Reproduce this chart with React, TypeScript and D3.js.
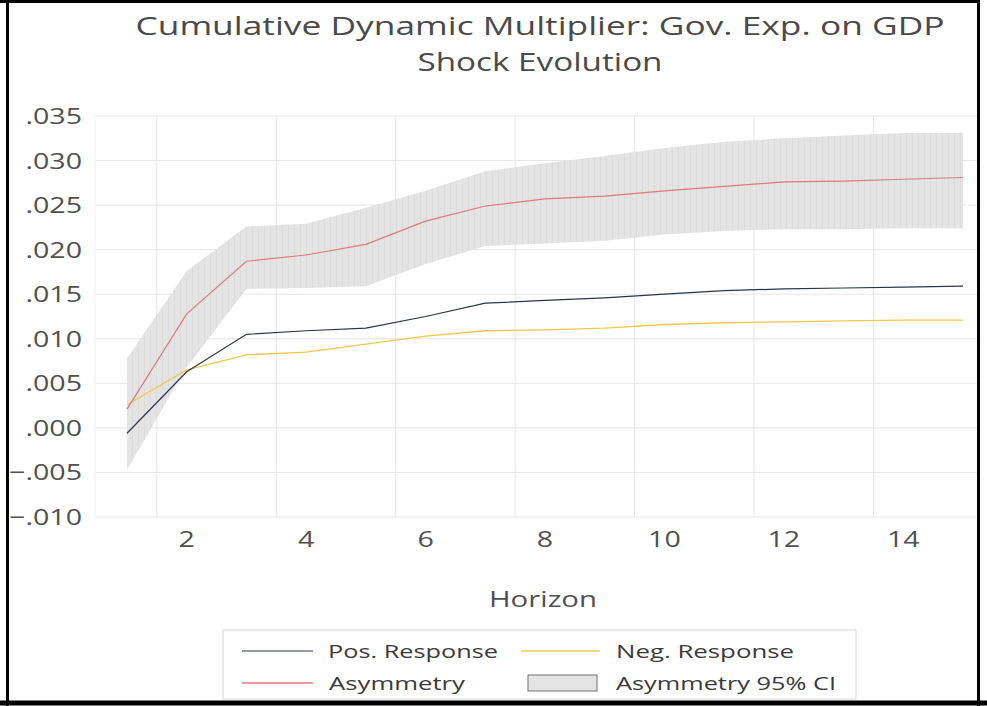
import React from "react";
import * as d3 from "d3";

// horizon categories and series
const horizons = [1, 2, 3, 4, 5, 6, 7, 8, 9, 10, 11, 12, 13, 14, 15];
const posResponse = [-0.0006, 0.0063, 0.0105, 0.0109, 0.0112, 0.0125, 0.014, 0.0143, 0.0146, 0.015, 0.0154, 0.0156, 0.0157, 0.0158, 0.0159];
const negResponse = [0.0026, 0.0065, 0.0082, 0.0085, 0.0094, 0.0103, 0.0109, 0.011, 0.0112, 0.0116, 0.0118, 0.0119, 0.012, 0.0121, 0.0121];
const asymmetry = [0.0021, 0.0128, 0.0187, 0.0194, 0.0206, 0.0232, 0.0249, 0.0257, 0.026, 0.0266, 0.0271, 0.0276, 0.0277, 0.0279, 0.0281];
const ciUpper = [0.0078, 0.0176, 0.0226, 0.0229, 0.0247, 0.0266, 0.0288, 0.0297, 0.0305, 0.0314, 0.0321, 0.0325, 0.0328, 0.0331, 0.0331];
const ciLower = [-0.0047, 0.0068, 0.0156, 0.0157, 0.0159, 0.0184, 0.0204, 0.0207, 0.021, 0.0217, 0.0221, 0.0223, 0.0223, 0.0224, 0.0224];

const xTicks = [2, 4, 6, 8, 10, 12, 14];
const xGrid = [1.5, 3.5, 5.5, 7.5, 9.5, 11.5, 13.5];
const titleLines = ["Cumulative Dynamic Multiplier: Gov. Exp. on GDP", "Shock Evolution"];
const legendItems = ["Pos. Response", "Neg. Response", "Asymmetry", "Asymmetry 95% CI"];

const W = 987;
const H = 706;
const plotLeft = 95;
const plotRight = 978;
const SX = 1.3; // picture text is stretched sideways
const font = "'Open Sans', sans-serif";

const colors = {
  pos: "#2b3550",
  neg: "#f2c84b",
  asym: "#e07a7a",
  band: "#e4e4e4",
  grid: "#e6e6e6",
  text: "#505050",
};

const fmt = (v: number) => d3.format(".3f")(v).replace("0.", ".");

export default function App() {
  const x = d3.scaleLinear().domain([1, 15]).range([127, 963]);
  const y = d3.scaleLinear().domain([-0.01, 0.035]).range([517, 116]);
  const yTicks = y.ticks(9);

  const line = (vals: number[]) =>
    d3.line<number>().x((_, i) => x(horizons[i])).y((d) => y(d))(vals) || "";
  const band =
    d3
      .area<number>()
      .x((_, i) => x(horizons[i]))
      .y0((_, i) => y(ciLower[i]))
      .y1((d) => y(d))(ciUpper) || "";

  return (
    <svg width={W} height={H} style={{ position: "absolute", left: 0, top: 0, background: "#fff" }} fontFamily={font}>
      <defs>
        <pattern id="stripes" width="6" height="10" patternUnits="userSpaceOnUse">
          <rect width="6" height="10" fill={colors.band} />
          <line x1="0.5" y1="0" x2="0.5" y2="10" stroke="#dcdcdc" strokeWidth="1" />
        </pattern>
      </defs>

      {/* title */}
      <text x={540} y={35} textAnchor="middle" fontSize={25} fill="#4a4a4a" textLength={809} lengthAdjust="spacingAndGlyphs">
        {titleLines[0]}
      </text>
      <text x={540} y={71} textAnchor="middle" fontSize={25} fill="#4a4a4a" textLength={245} lengthAdjust="spacingAndGlyphs">
        {titleLines[1]}
      </text>

      {/* grid */}
      {yTicks.map((t) => (
        <line key={"h" + t} x1={plotLeft} x2={plotRight} y1={y(t)} y2={y(t)} stroke={colors.grid} />
      ))}
      {xGrid.map((g) => (
        <line key={"v" + g} x1={x(g)} x2={x(g)} y1={y(0.035)} y2={y(-0.01)} stroke={colors.grid} />
      ))}
      <line x1={plotLeft} x2={plotLeft} y1={y(0.035)} y2={y(-0.01)} stroke="#f2f2f2" />

      {/* y tick labels */}
      {yTicks.map((t) => (
        <text
          key={"yl" + t}
          transform={`translate(82,${y(t) + 8}) scale(${SX},1)`}
          textAnchor="end"
          fontSize={22}
          fill={colors.text}
        >
          {fmt(t)}
        </text>
      ))}

      {/* x tick labels */}
      {xTicks.map((t) => (
        <text
          key={"xl" + t}
          transform={`translate(${x(t)},547) scale(${SX},1)`}
          textAnchor="middle"
          fontSize={22}
          fill={colors.text}
        >
          {t}
        </text>
      ))}
      <text x={543} y={607} textAnchor="middle" fontSize={22} fill={colors.text} textLength={108} lengthAdjust="spacingAndGlyphs">
        Horizon
      </text>

      {/* series */}
      <path d={band} fill="url(#stripes)" />
      <path d={line(negResponse)} fill="none" stroke={colors.neg} strokeWidth={1.3} />
      <path d={line(posResponse)} fill="none" stroke={colors.pos} strokeWidth={1.2} />
      <path d={line(asymmetry)} fill="none" stroke={colors.asym} strokeWidth={1.2} />

      {/* legend */}
      <rect x={223} y={630} width={633} height={69} fill="#fff" stroke="#d8d8d8" />
      <line x1={242} x2={313} y1={651} y2={651} stroke={colors.pos} strokeWidth={1.2} />
      <text x={328} y={658} fontSize={18} fill="#3a3a3a" textLength={170} lengthAdjust="spacingAndGlyphs">
        {legendItems[0]}
      </text>
      <line x1={521} x2={600} y1={651} y2={651} stroke={colors.neg} strokeWidth={1.3} />
      <text x={616} y={658} fontSize={18} fill="#3a3a3a" textLength={178} lengthAdjust="spacingAndGlyphs">
        {legendItems[1]}
      </text>
      <line x1={242} x2={313} y1={683} y2={683} stroke={colors.asym} strokeWidth={1.3} />
      <text x={329} y={690} fontSize={18} fill="#3a3a3a" textLength={136} lengthAdjust="spacingAndGlyphs">
        {legendItems[2]}
      </text>
      <rect x={528} y={675} width={69} height={16} fill={colors.band} stroke="#707070" />
      <text x={616} y={690} fontSize={18} fill="#3a3a3a" textLength={220} lengthAdjust="spacingAndGlyphs">
        {legendItems[3]}
      </text>

      {/* frame */}
      <line x1={7.5} x2={7.5} y1={0} y2={706} stroke="#000" strokeWidth={3} />
      <line x1={0} x2={980} y1={1.5} y2={1.5} stroke="#000" strokeWidth={3} />
      <line x1={978.5} x2={978.5} y1={0} y2={706} stroke="#000" strokeWidth={3} />
      <line x1={0} x2={987} y1={703} y2={703} stroke="#000" strokeWidth={5} />
    </svg>
  );
}
